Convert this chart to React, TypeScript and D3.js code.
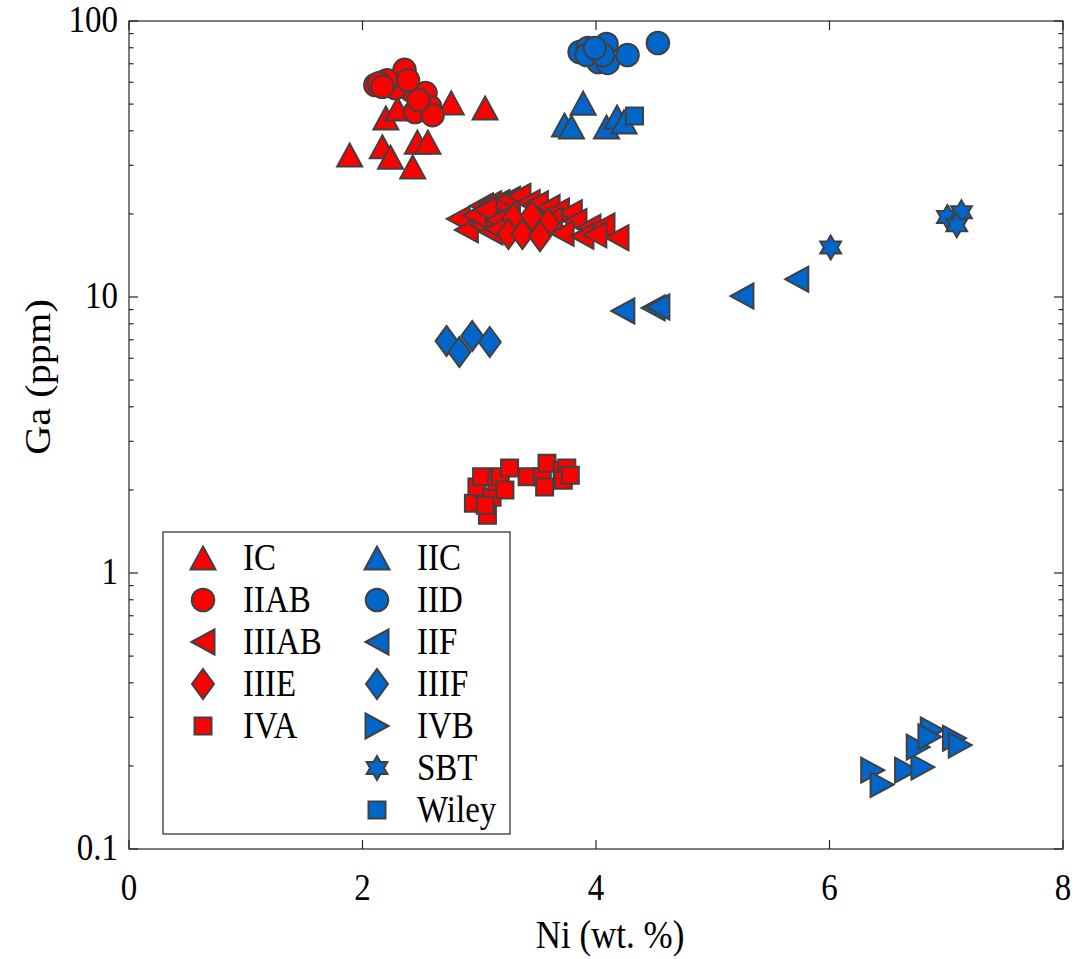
import React from "react";
import * as d3 from "d3";

// Ni (wt.%) and Ga (ppm) for each iron-meteorite group
const icNi = [1.89, 2.17, 2.24, 2.20, 2.43, 2.47, 2.56, 2.76, 3.05, 2.30];
const icGa = [32.7, 35.0, 32.1, 44.5, 29.6, 36.4, 36.4, 50.5, 48.4, 48.0];

const iiabNi = [2.11, 2.18, 2.24, 2.30, 2.36, 2.34, 2.41, 2.54, 2.58, 2.45, 2.60, 2.48, 2.28, 2.21, 2.39, 2.14, 2.17];
const iiabGa = [58.6, 60.1, 60.0, 61.1, 66.5, 58.1, 56.2, 54.8, 48.8, 46.8, 45.6, 51.7, 57.2, 61.0, 61.0, 59.5, 57.8];

const iiiabNi = [3.02, 3.09, 3.16, 3.25, 3.34, 3.42, 3.49, 3.59, 3.67, 3.78, 3.82, 3.94, 4.06, 4.18, 2.82, 2.89, 3.02, 3.10, 2.96, 3.05, 3.16, 3.15, 3.61, 3.71, 3.88, 3.99];
const iiiabGa = [21.4, 21.8, 22.0, 22.6, 23.2, 22.0, 21.8, 21.1, 20.5, 20.2, 18.8, 17.9, 18.1, 16.4, 19.2, 17.5, 18.2, 17.2, 19.8, 20.7, 19.0, 17.6, 19.0, 17.0, 16.6, 16.8];

const iiieNi = [3.29, 3.45, 3.59, 3.25, 3.37, 3.52];
const iiieGa = [19.3, 19.7, 18.5, 16.9, 16.9, 16.6];

const ivaNi = [2.95, 2.98, 3.02, 3.07, 3.11, 3.15, 3.18, 3.22, 3.26, 3.41, 3.54, 3.56, 3.58, 3.71, 3.75, 3.72, 3.78, 3.05];
const ivaGa = [1.79, 2.05, 2.23, 1.62, 1.88, 2.14, 2.23, 2.0, 2.40, 2.23, 2.23, 2.05, 2.50, 2.36, 2.40, 2.17, 2.26, 1.76];

const iicNi = [3.89, 3.73, 3.79, 4.09, 4.18, 4.24];
const iicGa = [50.4, 42.0, 41.3, 41.3, 44.9, 43.1];

const iidNi = [3.86, 3.93, 4.02, 4.10, 4.09, 4.27, 4.53, 3.92, 4.06, 3.99];
const iidGa = [77.2, 79.8, 71.0, 70.5, 82.5, 75.3, 83.2, 75.3, 75.3, 79.8];

const iifNi = [4.23, 4.49, 4.53, 5.25, 5.72];
const iifGa = [8.9, 9.13, 9.2, 10.08, 11.6];

const iiifNi = [2.72, 2.83, 2.94, 3.09];
const iiifGa = [6.93, 6.32, 7.22, 6.87];

const ivbNi = [6.37, 6.45, 6.66, 6.80, 6.76, 6.88, 6.86, 7.07, 7.12];
const ivbGa = [0.193, 0.171, 0.193, 0.198, 0.234, 0.270, 0.255, 0.252, 0.238];

const sbtNi = [6.01, 7.01, 7.13, 7.09];
const sbtGa = [15.1, 19.5, 20.3, 18.2];

const wileyNi = [4.33];
const wileyGa = [45.3];

const xTicks = [0, 2, 4, 6, 8];
const yTicks = [0.1, 1, 10, 100];
const yTickLabels = ["0.1", "1", "10", "100"];

const RED = "#ff0000";
const BLUE = "#0066cc";
const EDGE = "#404040";
const AXIS = "#262626";
const FONT = "'Liberation Serif', 'Times New Roman', serif";

type Shape = "up" | "circle" | "left" | "diamond" | "square" | "right" | "hexagram";

function markerPath(shape: Shape): string {
  switch (shape) {
    case "up":
      return "M0,-11.5L12.5,11.5L-12.5,11.5Z";
    case "left":
      return "M-11.5,0L11.5,-12.5L11.5,12.5Z";
    case "right":
      return "M11.5,0L-11.5,-12.5L-11.5,12.5Z";
    case "diamond":
      return "M0,-15L11,0L0,15L-11,0Z";
    case "square":
      return "M-8.5,-8.5L8.5,-8.5L8.5,8.5L-8.5,8.5Z";
    case "circle":
      return d3.arc()({ innerRadius: 0, outerRadius: 11.3, startAngle: 0, endAngle: 2 * Math.PI }) as string;
    case "hexagram": {
      const ro = 12;
      const ri = ro / Math.sqrt(3);
      const pts: [number, number][] = [];
      for (let i = 0; i < 12; i++) {
        const a = (i * Math.PI) / 6 - Math.PI / 2;
        const r = i % 2 === 0 ? ro : ri;
        pts.push([r * Math.cos(a), r * Math.sin(a)]);
      }
      return d3.line()(pts) + "Z";
    }
  }
}

const groups: { name: string; ni: number[]; ga: number[]; shape: Shape; color: string }[] = [
  { name: "IC", ni: icNi, ga: icGa, shape: "up", color: RED },
  { name: "IIAB", ni: iiabNi, ga: iiabGa, shape: "circle", color: RED },
  { name: "IIIAB", ni: iiiabNi, ga: iiiabGa, shape: "left", color: RED },
  { name: "IIIE", ni: iiieNi, ga: iiieGa, shape: "diamond", color: RED },
  { name: "IVA", ni: ivaNi, ga: ivaGa, shape: "square", color: RED },
  { name: "IIC", ni: iicNi, ga: iicGa, shape: "up", color: BLUE },
  { name: "IID", ni: iidNi, ga: iidGa, shape: "circle", color: BLUE },
  { name: "IIF", ni: iifNi, ga: iifGa, shape: "left", color: BLUE },
  { name: "IIIF", ni: iiifNi, ga: iiifGa, shape: "diamond", color: BLUE },
  { name: "IVB", ni: ivbNi, ga: ivbGa, shape: "right", color: BLUE },
  { name: "SBT", ni: sbtNi, ga: sbtGa, shape: "hexagram", color: BLUE },
  { name: "Wiley", ni: wileyNi, ga: wileyGa, shape: "square", color: BLUE },
];

const W = 1080;
const H = 959;
const left = 129;
const right = 1063;
const top = 21;
const bottom = 849;

export default function App() {
  const x = d3.scaleLinear().domain([0, 8]).range([left, right]);
  const y = d3.scaleLog().domain([0.1, 100]).range([bottom, top]);

  const minor: number[] = [];
  for (const dec of [0.1, 1, 10]) {
    for (let k = 2; k <= 9; k++) minor.push(dec * k);
  }

  // text is drawn slightly tall (vertical stretch on screen)
  const SY = 1.12;
  const txt = (tx: number, ty: number, s: string, anchor: string, size = 33, rot = 0) => (
    <text
      key={`${s}-${tx}-${ty}`}
      transform={
        rot === 0
          ? `translate(${tx},${ty}) scale(1,${SY})`
          : `translate(${tx},${ty}) rotate(${rot}) scale(${SY},1)`
      }
      textAnchor={anchor}
      fontFamily={FONT}
      fontSize={size}
      fill="#000"
    >
      {s}
    </text>
  );

  const red = groups.filter((g) => g.color === RED);
  const blue = groups.filter((g) => g.color === BLUE);
  const legX1 = 203;
  const legX2 = 377;
  const legY0 = 558;
  const legDy = 42;

  return (
    <svg width={W} height={H} style={{ display: "block", position: "absolute", left: 0, top: 0, background: "#fff" }}>
      <rect x={0} y={0} width={W} height={H} fill="#fff" />
      <rect x={left} y={top} width={right - left} height={bottom - top} fill="#fff" />

      {/* markers */}
      {groups.map((g) =>
        g.ni.map((v, i) => (
          <path
            key={`${g.name}-${i}`}
            d={markerPath(g.shape)}
            transform={`translate(${x(v)},${y(g.ga[i])})`}
            fill={g.color}
            stroke={EDGE}
            strokeWidth={2}
            strokeLinejoin="miter"
          />
        ))
      )}

      {/* axes box and ticks */}
      <rect x={left} y={top} width={right - left} height={bottom - top} fill="none" stroke={AXIS} strokeWidth={1.2} />
      {xTicks.map((t) => (
        <g key={`xt${t}`}>
          <line x1={x(t)} x2={x(t)} y1={bottom} y2={bottom - 9} stroke={AXIS} strokeWidth={1.2} />
          <line x1={x(t)} x2={x(t)} y1={top} y2={top + 9} stroke={AXIS} strokeWidth={1.2} />
        </g>
      ))}
      {yTicks.map((t) => (
        <g key={`yt${t}`}>
          <line x1={left} x2={left + 9} y1={y(t)} y2={y(t)} stroke={AXIS} strokeWidth={1.2} />
          <line x1={right} x2={right - 9} y1={y(t)} y2={y(t)} stroke={AXIS} strokeWidth={1.2} />
        </g>
      ))}
      {minor.map((t) => (
        <g key={`ym${t}`}>
          <line x1={left} x2={left + 4.5} y1={y(t)} y2={y(t)} stroke={AXIS} strokeWidth={1.2} />
          <line x1={right} x2={right - 4.5} y1={y(t)} y2={y(t)} stroke={AXIS} strokeWidth={1.2} />
        </g>
      ))}

      {/* tick labels */}
      {xTicks.map((t) => txt(x(t), 900, String(t), "middle"))}
      {yTicks.map((t, i) => txt(118, y(t) + 11, yTickLabels[i], "end"))}

      {/* axis titles */}
      {txt(610, 948, "Ni (wt. %)", "middle", 35)}
      {txt(50, 377, "Ga (ppm)", "middle", 36, -90)}

      {/* legend */}
      <rect x={163} y={532} width={347} height={302} fill="#fff" stroke={AXIS} strokeWidth={1.2} />
      {red.map((g, i) => (
        <g key={`lr${g.name}`}>
          <path d={markerPath(g.shape)} transform={`translate(${legX1},${legY0 + i * legDy})`} fill={g.color} stroke={EDGE} strokeWidth={2} />
          {txt(243, legY0 + i * legDy + 12, g.name, "start")}
        </g>
      ))}
      {blue.map((g, i) => (
        <g key={`lb${g.name}`}>
          <path d={markerPath(g.shape)} transform={`translate(${legX2},${legY0 + i * legDy})`} fill={g.color} stroke={EDGE} strokeWidth={2} />
          {txt(417, legY0 + i * legDy + 12, g.name, "start")}
        </g>
      ))}
    </svg>
  );
}
